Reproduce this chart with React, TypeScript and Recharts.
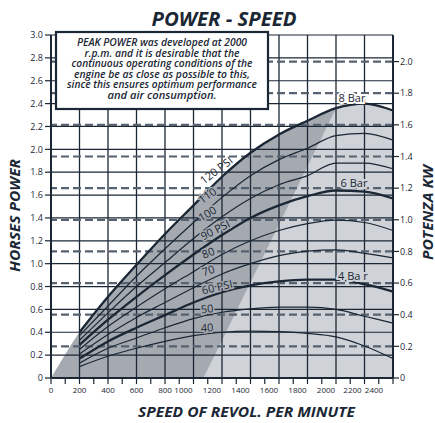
import React from 'react'
import { ComposedChart, Line, Area, XAxis, YAxis, ReferenceLine, ReferenceDot } from 'recharts'

// speed (r.p.m.) at which each curve is read
const rpm = [200, 400, 600, 800, 1000, 1200, 1400, 1600, 1800, 2000, 2200, 2400]

// horse power per supply pressure
const psi40 = [0.10, 0.19, 0.26, 0.32, 0.37, 0.40, 0.41, 0.405, 0.39, 0.36, 0.28, 0.17]
const psi50 = [0.13, 0.26, 0.35, 0.44, 0.52, 0.575, 0.605, 0.62, 0.62, 0.60, 0.54, 0.48]
const psi60 = [0.17, 0.32, 0.44, 0.55, 0.66, 0.75, 0.81, 0.845, 0.86, 0.86, 0.82, 0.755]
const psi70 = [0.21, 0.38, 0.53, 0.66, 0.79, 0.91, 1.0, 1.07, 1.11, 1.12, 1.09, 1.05]
const psi80 = [0.25, 0.45, 0.62, 0.78, 0.93, 1.08, 1.2, 1.29, 1.35, 1.38, 1.36, 1.29]
const psi90 = [0.29, 0.51, 0.71, 0.9, 1.08, 1.25, 1.4, 1.51, 1.59, 1.64, 1.63, 1.57]
const psi100 = [0.33, 0.57, 0.8, 1.01, 1.22, 1.41, 1.57, 1.69, 1.77, 1.88, 1.88, 1.83]
const psi110 = [0.37, 0.63, 0.89, 1.13, 1.36, 1.58, 1.77, 1.91, 2.01, 2.12, 2.14, 2.08]
const psi120 = [0.4, 0.71, 0.99, 1.26, 1.51, 1.76, 1.97, 2.13, 2.25, 2.36, 2.4, 2.34]

// foot of the light band (rpm at 0 hp); it meets the 120 PSI curve at 2000 rpm
const lightBandFoot = 1070
const lightBandTop = 2000

const rpmTicks = [0, 100, 200, 300, 400, 500, 600, 700, 800, 900, 1000, 1100, 1200, 1300, 1400, 1500, 1600, 1700, 1800, 1900, 2000, 2100, 2200, 2300, 2400]
const rpmLabels = [0, 200, 400, 600, 800, 1000, 1200, 1400, 1600, 1800, 2000, 2200, 2400]
const hpTicks = [0, 0.2, 0.4, 0.6, 0.8, 1.0, 1.2, 1.4, 1.6, 1.8, 2.0, 2.2, 2.4, 2.6, 2.8, 3.0]
const kwTicks = [0, 0.2, 0.4, 0.6, 0.8, 1.0, 1.2, 1.4, 1.6, 1.8, 2.0]

const curveLabels = [
  { text: '120 PSI', rpm: 1158, hp: 1.82, angle: -37 },
  { text: '110', rpm: 1095, hp: 1.6, angle: -35 },
  { text: '100', rpm: 1095, hp: 1.44, angle: -31 },
  { text: '90 PSI', rpm: 1151, hp: 1.3, angle: -27 },
  { text: '80', rpm: 1102, hp: 1.1, angle: -22 },
  { text: '70', rpm: 1102, hp: 0.945, angle: -18 },
  { text: '60 PSI', rpm: 1165, hp: 0.8, angle: -13 },
  { text: '50', rpm: 1095, hp: 0.61, angle: -6 },
  { text: '40', rpm: 1095, hp: 0.445, angle: -3 },
]
const barLabels = [
  { text: '8 Bar', rpm: 2112, hp: 2.455 },
  { text: '6 Bar', rpm: 2126, hp: 1.71 },
  { text: '4 Ba r', rpm: 2119, hp: 0.9 },
]

const noteLines = [
  'PEAK POWER was developed at 2000',
  'r.p.m. and it is desirable that the',
  'continuous operating conditions of the',
  'engine be as close as possible to this,',
  'since this ensures optimum performance',
  'and air consumption.',
]
const noteWidths = [170, 155, 181, 176, 190, 109]

const series = [
  { key: 'p40', values: psi40, thick: false },
  { key: 'p50', values: psi50, thick: false },
  { key: 'p60', values: psi60, thick: true },
  { key: 'p70', values: psi70, thick: false },
  { key: 'p80', values: psi80, thick: false },
  { key: 'p90', values: psi90, thick: true },
  { key: 'p100', values: psi100, thick: false },
  { key: 'p110', values: psi110, thick: false },
  { key: 'p120', values: psi120, thick: true },
]

const rows: any[] = [{ rpm: 0, dark: 0 }]
rpm.forEach((r, i) => {
  const row: any = { rpm: r, dark: psi120[i] }
  series.forEach(s => { row[s.key] = s.values[i] })
  if (r >= lightBandTop) row.light = psi120[i]
  rows.push(row)
})
rows.push({ rpm: lightBandFoot, light: 0 })
rows.sort((a, b) => a.rpm - b.rpm)

const INK = '#1b2734'
const FONT = '"Open Sans", sans-serif'

// the scanned chart prints its upper speed labels a little left of their ticks
const XTick = (props: any) => {
  const { x, y, payload } = props
  const v = payload.value
  if (!rpmLabels.includes(v)) return <g />
  const shift = v >= 2400 ? -19 : v >= 2200 ? -12 : v >= 1000 ? -10 : 0
  return (
    <text x={x + shift} y={y} dy="0.71em" textAnchor="middle" fontSize={8} fill={INK} fontFamily={FONT}>
      {v}
    </text>
  )
}

const fmt = (v: number) => (v === 0 ? '0' : v.toFixed(1))

export default function App() {
  return (
    <div style={{ position: 'absolute', left: 0, top: 0, width: 435, height: 423, background: '#fff' }}>
      <ComposedChart width={435} height={423} data={rows} margin={{ top: 35, right: 12, bottom: 20, left: 11 }}>
        <XAxis
          dataKey="rpm"
          type="number"
          domain={[0, 2400]}
          ticks={rpmTicks}
          interval={0}
          height={25}
          tickSize={6}
          tickMargin={3}
          tick={<XTick />}
          axisLine={{ stroke: INK, strokeWidth: 2 }}
          tickLine={{ stroke: INK, strokeWidth: 1.2 }}
        />
        <YAxis
          yAxisId="hp"
          domain={[0, 3]}
          allowDataOverflow
          ticks={hpTicks}
          interval={0}
          width={40}
          tickSize={6}
          tickMargin={2}
          tickFormatter={fmt}
          tick={{ fontSize: 9, fill: INK, fontFamily: FONT }}
          axisLine={{ stroke: INK, strokeWidth: 2 }}
          tickLine={{ stroke: INK, strokeWidth: 1.2 }}
        />
        <YAxis
          yAxisId="kw"
          orientation="right"
          type="number"
          domain={[0, 2.168]}
          allowDataOverflow
          ticks={kwTicks}
          interval={0}
          width={30}
          tickSize={6}
          tickMargin={1}
          tickFormatter={fmt}
          tick={{ fontSize: 9, fill: INK, fontFamily: FONT, textAnchor: 'start' }}
          axisLine={{ stroke: INK, strokeWidth: 2 }}
          tickLine={{ stroke: INK, strokeWidth: 1.2 }}
        />
        <Area yAxisId="hp" dataKey="dark" type="monotone" connectNulls fill="#a5aab1" fillOpacity={1} stroke="none" isAnimationActive={false} />
        <Area yAxisId="hp" dataKey="light" type="linear" connectNulls fill="#cfd2d7" fillOpacity={1} stroke="none" isAnimationActive={false} />
        {hpTicks.filter(v => v > 0).map(v => (
          <ReferenceLine key={'h' + v} yAxisId="hp" y={v} stroke={INK} strokeWidth={1.2} />
        ))}
        {rpmLabels.filter(v => v > 0).map(v => (
          <ReferenceLine key={'v' + v} yAxisId="hp" x={v} stroke={INK} strokeWidth={v === 2400 ? 2 : 1.3} />
        ))}
        {kwTicks.filter(v => v > 0).map(v => (
          <ReferenceLine key={'k' + v} yAxisId="kw" y={v} stroke="#56626f" strokeWidth={2.2} strokeDasharray="8 4" ifOverflow="visible" />
        ))}
        {series.map(s => (
          <Line
            key={s.key}
            yAxisId="hp"
            dataKey={s.key}
            type="monotone"
            connectNulls
            stroke={INK}
            strokeWidth={s.thick ? 2.3 : 1.2}
            dot={false}
            isAnimationActive={false}
          />
        ))}
        {/* invisible series so the kW axis has something bound to it */}
        <Line yAxisId="kw" dataKey="p120" stroke="none" dot={false} activeDot={false} legendType="none" isAnimationActive={false} />
        {curveLabels.map(l => (
          <ReferenceDot
            key={l.text}
            yAxisId="hp"
            x={l.rpm}
            y={l.hp}
            r={1}
            zIndex={2000}
            shape={(p: any) => (
              <text
                x={p.cx}
                y={p.cy}
                textAnchor="middle"
                dominantBaseline="central"
                transform={`rotate(${l.angle} ${p.cx} ${p.cy})`}
                fontSize={11}
                fontFamily={FONT}
                fill={INK}
                stroke={l.text === '120 PSI' ? 'none' : '#a5aab1'}
                strokeWidth={3}
                style={{ paintOrder: 'stroke' }}
              >
                {l.text}
              </text>
            )}
          />
        ))}
        {barLabels.map((l, i) => (
          <ReferenceDot
            key={l.text}
            yAxisId="hp"
            x={l.rpm}
            y={l.hp}
            r={1}
            zIndex={2000}
            shape={(p: any) => (
              <text
                x={p.cx}
                y={p.cy}
                textAnchor="middle"
                dominantBaseline="central"
                fontSize={11}
                fontFamily={FONT}
                fill={INK}
                stroke={i === 0 ? '#ffffff' : '#cfd2d7'}
                strokeWidth={4}
                style={{ paintOrder: 'stroke' }}
              >
                {l.text}
              </text>
            )}
          />
        ))}
      </ComposedChart>
      <svg width={435} height={423} style={{ position: 'absolute', left: 0, top: 0, pointerEvents: 'none' }}>
        <text x={224} y={26} textAnchor="middle" fontSize={20} fontWeight={700} fontStyle="italic" fontFamily={FONT} fill={INK} textLength={145} lengthAdjust="spacingAndGlyphs">
          POWER - SPEED
        </text>
        <text transform="translate(14,215.5) rotate(-90)" textAnchor="middle" dominantBaseline="central" fontSize={15} fontWeight={700} fontStyle="italic" fontFamily={FONT} fill={INK} textLength={113} lengthAdjust="spacingAndGlyphs">
          HORSES POWER
        </text>
        <text transform="translate(427,212.5) rotate(-90)" textAnchor="middle" dominantBaseline="central" fontSize={14} fontWeight={700} fontStyle="italic" fontFamily={FONT} fill={INK} textLength={95} lengthAdjust="spacingAndGlyphs">
          POTENZA KW
        </text>
        <text x={246.5} y={417} textAnchor="middle" fontSize={15} fontWeight={700} fontStyle="italic" fontFamily={FONT} fill={INK} textLength={217} lengthAdjust="spacingAndGlyphs">
          SPEED OF REVOL. PER MINUTE
        </text>
        <rect x={56} y={32} width={212} height={77} fill="#fff" stroke={INK} strokeWidth={2.2} />
        {noteLines.map((t, i) => (
          <text key={i} x={162} y={46 + i * 10.5} textAnchor="middle" fontSize={10} fontWeight={600} fontStyle="italic" fontFamily={FONT} fill={INK} textLength={noteWidths[i]} lengthAdjust="spacingAndGlyphs">
            {t}
          </text>
        ))}
      </svg>
    </div>
  )
}
